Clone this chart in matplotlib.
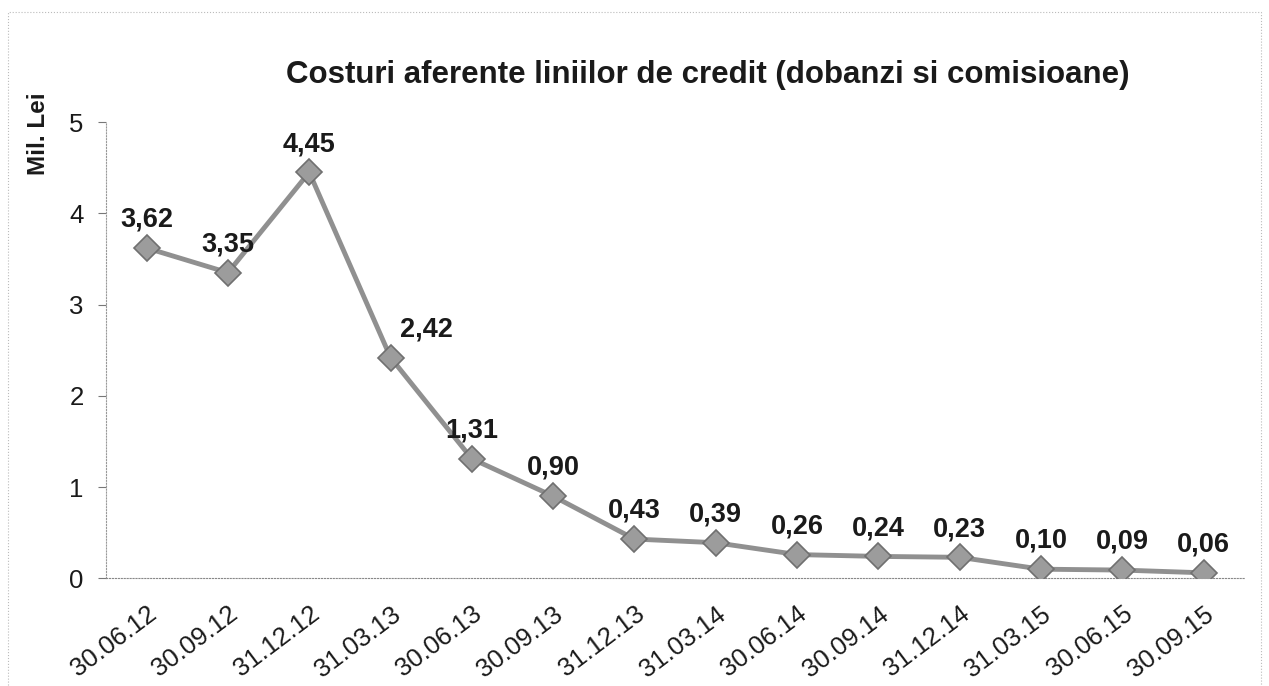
import matplotlib.pyplot as plt
from matplotlib.patches import Rectangle
from matplotlib.transforms import ScaledTranslation

plt.rcParams['font.family'] = ['Liberation Sans', 'DejaVu Sans']

dates = ['30.06.12', '30.09.12', '31.12.12', '31.03.13', '30.06.13', '30.09.13',
         '31.12.13', '31.03.14', '30.06.14', '30.09.14', '31.12.14', '31.03.15',
         '30.06.15', '30.09.15']
costs = [3.62, 3.35, 4.45, 2.42, 1.31, 0.90, 0.43, 0.39, 0.26, 0.24, 0.23, 0.10,
         0.09, 0.06]

fig = plt.figure(figsize=(12.69, 6.86), dpi=100)
ax = fig.add_axes([0.0835, 0.157, 0.897, 0.665])

x = list(range(len(dates)))
ax.plot(x, costs, color='#909090', linewidth=3.5, marker='D', markersize=13,
        markerfacecolor='#9c9c9c', markeredgecolor='#707070', markeredgewidth=1.2,
        zorder=3)

# the 2,42 label sits off to the right of its point in the original
label_dx = {3: 26}
for xi, v in zip(x, costs):
    ax.annotate(('%.2f' % v).replace('.', ','), (xi, v),
                xytext=(label_dx.get(xi, 0), 11),
                textcoords='offset points', ha='center', va='bottom',
                fontsize=19.5, fontweight='bold', color='#1a1a1a')

ax.set_xlim(-0.5, len(dates) - 0.5)
ax.set_ylim(0, 5)
ax.set_yticks([0, 1, 2, 3, 4, 5])
ax.set_xticks(x)
ax.set_xticklabels(dates, rotation=37, ha='right', rotation_mode='anchor',
                   fontsize=18.5, color='#1a1a1a')
shift = ScaledTranslation(-7 / 100, 0, fig.dpi_scale_trans)
for lbl in ax.get_xticklabels():
    lbl.set_transform(lbl.get_transform() + shift)
ax.tick_params(axis='y', labelsize=18.5, length=6, color='#777777', pad=10,
               labelcolor='#1a1a1a')
ax.tick_params(axis='x', length=0, pad=17)

for s in ['top', 'right']:
    ax.spines[s].set_visible(False)
ax.spines['left'].set_color('#999999')
ax.spines['left'].set_linestyle(':')
ax.spines['bottom'].set_color('#888888')
ax.spines['bottom'].set_linestyle(':')

fig.text(0.558, 0.89, 'Costuri aferente liniilor de credit (dobanzi si comisioane)',
         ha='center', va='center', fontsize=22.5, fontweight='bold', color='#1a1a1a')
fig.text(0.03, 0.805, 'Mil. Lei', rotation=90, ha='center', va='center',
         fontsize=17.5, fontweight='bold', color='#1a1a1a')

fig.patches.append(Rectangle((0.006, -0.01), 0.988, 0.993, transform=fig.transFigure,
                             fill=False, edgecolor='#bbbbbb', linewidth=0.8,
                             linestyle=':'))

fig.savefig('out.png', dpi=100)
